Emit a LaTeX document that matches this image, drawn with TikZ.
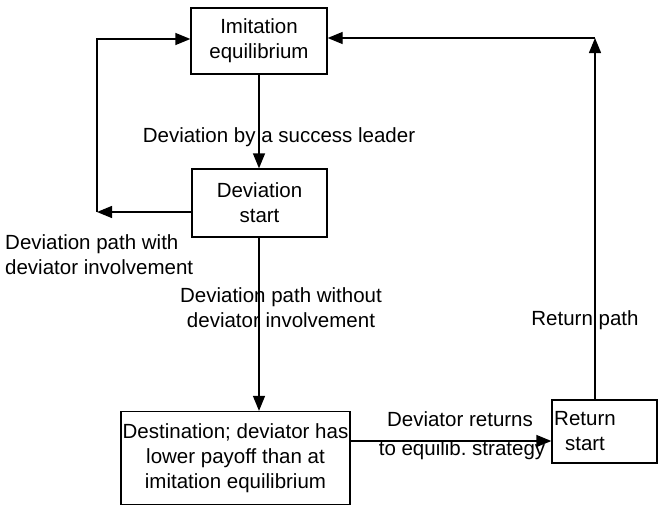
\documentclass[tikz,border=0pt]{standalone}
\usepackage{fontspec}
\setmainfont{Liberation Sans}
\usetikzlibrary{arrows.meta}
\frenchspacing
\begin{document}
\begin{tikzpicture}[x=1pt,y=-1pt,
  every node/.style={font=\fontsize{20.5}{25}\selectfont, inner sep=0pt},
  box/.style={draw, line width=1.3pt, align=center},
  conn/.style={line width=1.3pt},
  arr/.style={conn, -{Triangle[length=15pt,width=12pt]}},
  lbl/.style={align=center}]
\useasboundingbox (0,0) rectangle (658,506);
\node[box, minimum width=136pt, minimum height=66pt] (imit) at (259,41) {Imitation\\equilibrium};
\node[box, minimum width=135pt, minimum height=68pt] (dev) at (259.5,203) {Deviation\\start};
\node[box, minimum width=229pt, minimum height=93pt] (dest) at (235.5,458) {Destination; deviator has\\lower payoff than at\\imitation equilibrium};
\node[box, minimum width=105pt, minimum height=63pt] (ret) at (604.5,431.5) {};
\node[lbl] (rettxt) at (585,431) {Return\\start};
\coordinate (lc) at (97,212);
\coordinate (lt) at (97,39);
\coordinate (rt) at (595,38);
\coordinate (rb) at (595,400);
\coordinate (dr) at (350,441);
\coordinate (vx) at (259,0);
\draw[arr] (vx |- imit.south) -- (vx |- dev.north);
\draw[arr] (dev.west |- lc) -- (lc);
\draw[arr] (lc) -- (lt) -- (imit.west |- lt);
\draw[arr] (vx |- dev.south) -- (vx |- dest.north);
\draw[arr] (dr) -- (ret.west |- dr);
\draw[arr] (rb) -- (rt);
\draw[arr] (rt) -- (imit.east |- rt);
\node[lbl] (l1) at (279,137) {Deviation by a success leader};
\node[align=left, anchor=west] (l2) at (5,255) {Deviation path with\\deviator involvement};
\node[lbl] (l3) at (281,308) {Deviation path without\\deviator involvement};
\node[lbl] (l4) at (460,419) {Deviator returns};
\node[lbl] (l5) at (462,450) {to equilib. strategy};
\node[lbl] (l6) at (585,320) {Return path};
\end{tikzpicture}
\end{document}
